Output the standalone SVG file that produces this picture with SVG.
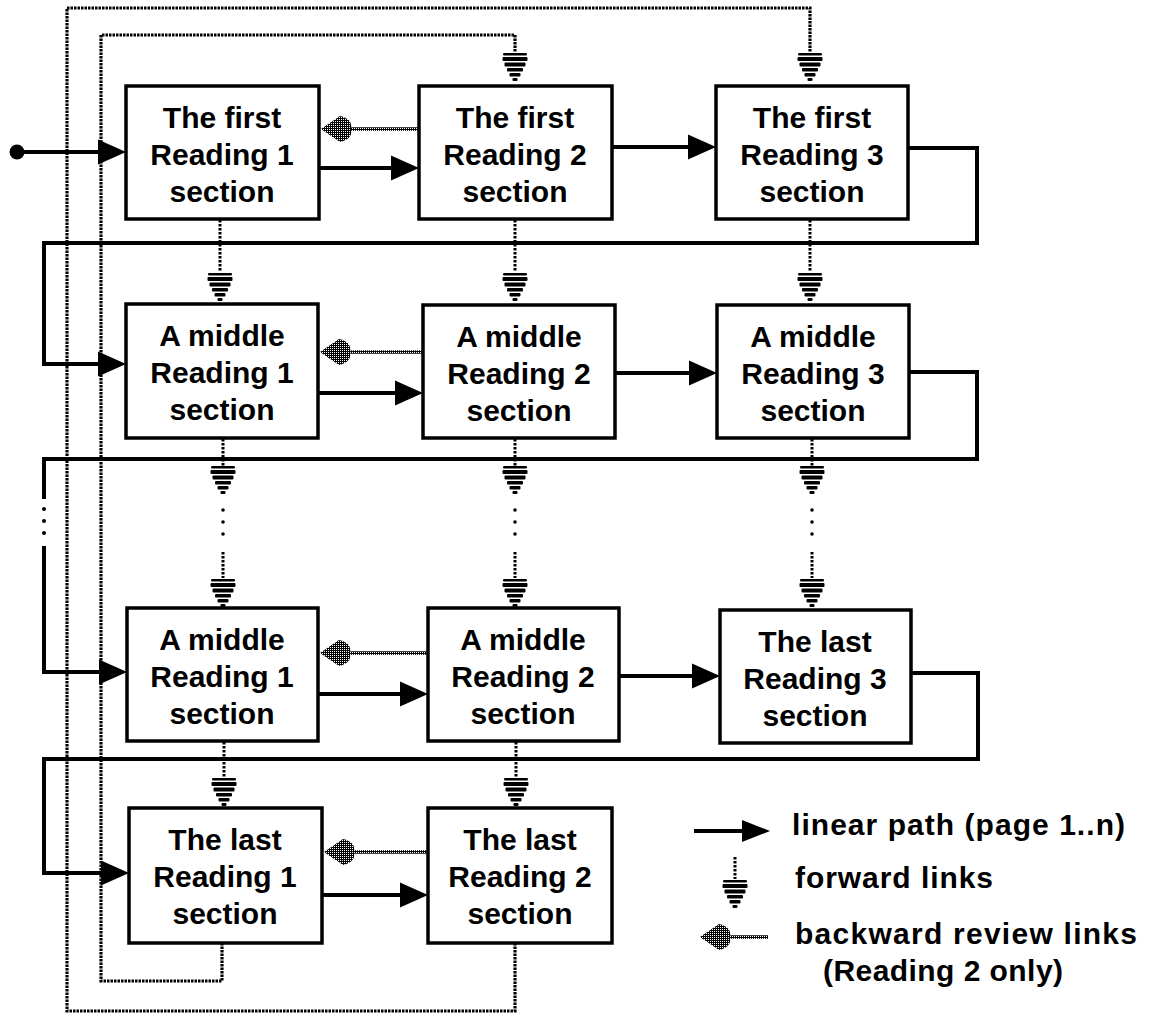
<svg xmlns="http://www.w3.org/2000/svg" xmlns:xlink="http://www.w3.org/1999/xlink" width="1150" height="1014" viewBox="0 0 1150 1014">
  <style>
    .box { fill: #fff; stroke: #000; stroke-width: 3.5; }
    .lbl { font-family: "Liberation Sans", Arial, sans-serif; font-weight: bold; font-size: 30px; text-anchor: middle; fill: #000; }
    .leg { font-family: "Liberation Sans", Arial, sans-serif; font-weight: bold; font-size: 30px; fill: #000; }
    .lin { fill: none; stroke: #000; stroke-width: 4; stroke-linejoin: miter; stroke-linecap: square; }
    .dot { fill: none; stroke: #000; stroke-width: 3.2; stroke-dasharray: 2.5 1; }
    .fdot { fill: none; stroke: #000; stroke-width: 3; stroke-dasharray: 2.4 1.6; }
    .back { fill: none; stroke: url(#stipD); stroke-width: 3.5; }
  </style>
  <defs>
    <!-- dense stipple for review links -->
    <pattern id="stipD" width="2" height="2" patternUnits="userSpaceOnUse">
      <rect width="2" height="2" fill="#000"/>
      <rect width="1" height="1" fill="#fff"/>
    </pattern>
    <!-- solid arrowhead, tip at origin, pointing right -->
    <polygon id="ah" points="-28,-12.5 0,0 -28,12.5" fill="#000"/>
    <!-- review arrowhead, tip at origin, pointing left -->
    <path id="bh" d="M0,0 L19,-13 Q32,-10 30,0 Q32,10 19,13 Z" fill="url(#stipD)"/>
    <!-- striped forward-link head, top centre at origin -->
    <g id="fw" fill="#000">
      <rect x="-12" y="0" width="24" height="2.5" rx="1.2"/>
      <rect x="-12.5" y="4" width="25" height="4" rx="1"/>
      <rect x="-10.5" y="9.5" width="21" height="4" rx="1"/>
      <rect x="-8" y="15" width="16" height="3.5" rx="1"/>
      <rect x="-5.5" y="20" width="11" height="3.5" rx="1"/>
      <rect x="-2.5" y="25" width="5" height="3" rx="1"/>
    </g>
  </defs>

  <rect width="1150" height="1014" fill="#fff"/>

  <!-- connectors -->
  <g id="connectors">
    <!-- review loops back to the top of Reading 2 and Reading 3 -->
    <path class="dot" d="M515,943 V1011 H67 V8 H810 V52"/>
    <path class="dot" d="M222,943 V981 H101 V35 H515 V52"/>
    <use xlink:href="#fw" x="810" y="53"/>
    <use xlink:href="#fw" x="515" y="53"/>

    <!-- forward links, row 1 to row 2 -->
    <path class="fdot" d="M220,220 V272 M515,220 V272 M810,220 V272"/>
    <use xlink:href="#fw" x="220" y="273"/>
    <use xlink:href="#fw" x="515" y="273"/>
    <use xlink:href="#fw" x="810" y="273"/>

    <!-- forward links, row 2 to row 3 (with gap) -->
    <path class="fdot" d="M223,439 V466 M515,439 V466 M812,439 V466"/>
    <use xlink:href="#fw" x="223" y="466"/>
    <use xlink:href="#fw" x="515" y="466"/>
    <use xlink:href="#fw" x="812" y="466"/>
    <g fill="#000">
      <circle cx="223" cy="510" r="1.8"/><circle cx="223" cy="522" r="1.8"/><circle cx="223" cy="534" r="1.8"/>
      <circle cx="515" cy="510" r="1.8"/><circle cx="515" cy="522" r="1.8"/><circle cx="515" cy="534" r="1.8"/>
      <circle cx="812" cy="510" r="1.8"/><circle cx="812" cy="522" r="1.8"/><circle cx="812" cy="534" r="1.8"/>
    </g>
    <path class="fdot" d="M223,552 V578 M515,552 V578 M812,552 V578"/>
    <use xlink:href="#fw" x="223" y="579"/>
    <use xlink:href="#fw" x="515" y="579"/>
    <use xlink:href="#fw" x="812" y="579"/>

    <!-- forward links, row 3 to row 4 -->
    <path class="fdot" d="M224,742 V777 M516,742 V777"/>
    <use xlink:href="#fw" x="224" y="778"/>
    <use xlink:href="#fw" x="516" y="778"/>

    <!-- linear path -->
    <circle cx="17" cy="152" r="7.5" fill="#000"/>
    <path class="lin" d="M17,152 H100"/>
    <use xlink:href="#ah" x="126" y="152"/>

    <path class="lin" d="M319,168 H393"/>
    <use xlink:href="#ah" x="419" y="168"/>
    <path class="lin" d="M612,147 H690"/>
    <use xlink:href="#ah" x="716" y="147"/>
    <path class="lin" d="M908,148 H977 V243 H44 V364 H100"/>
    <use xlink:href="#ah" x="126" y="364"/>

    <path class="lin" d="M318,393 H397"/>
    <use xlink:href="#ah" x="423" y="393"/>
    <path class="lin" d="M615,373 H691"/>
    <use xlink:href="#ah" x="717" y="373"/>
    <path class="lin" d="M909,372 H977 V459 H44 V497"/>
    <g fill="#000">
      <circle cx="44" cy="509" r="2"/><circle cx="44" cy="521" r="2"/><circle cx="44" cy="533" r="2"/>
    </g>
    <path class="lin" d="M44,548 V672 H101"/>
    <use xlink:href="#ah" x="127" y="672"/>

    <path class="lin" d="M318,694 H402"/>
    <use xlink:href="#ah" x="428" y="694"/>
    <path class="lin" d="M619,676 H694"/>
    <use xlink:href="#ah" x="720" y="676"/>
    <path class="lin" d="M911,673 H978 V759 H44 V873 H103"/>
    <use xlink:href="#ah" x="129" y="873"/>

    <path class="lin" d="M322,895 H402"/>
    <use xlink:href="#ah" x="428" y="895"/>

    <!-- backward review links (Reading 2 only) -->
    <path class="back" d="M419,129 H348"/>
    <use xlink:href="#bh" x="321" y="129"/>
    <path class="back" d="M423,352 H347"/>
    <use xlink:href="#bh" x="320" y="352"/>
    <path class="back" d="M428,653 H347"/>
    <use xlink:href="#bh" x="320" y="653"/>
    <path class="back" d="M428,852 H351"/>
    <use xlink:href="#bh" x="324" y="852"/>
  </g>

  <!-- row 1 -->
  <g id="first-r1">
    <rect class="box" x="126" y="86" width="193" height="133"/>
    <text class="lbl"><tspan x="222" y="128">The first</tspan><tspan x="222" y="165">Reading 1</tspan><tspan x="222" y="202">section</tspan></text>
  </g>
  <g id="first-r2">
    <rect class="box" x="419" y="86" width="193" height="133"/>
    <text class="lbl"><tspan x="515" y="128">The first</tspan><tspan x="515" y="165">Reading 2</tspan><tspan x="515" y="202">section</tspan></text>
  </g>
  <g id="first-r3">
    <rect class="box" x="716" y="86" width="192" height="133"/>
    <text class="lbl"><tspan x="812" y="128">The first</tspan><tspan x="812" y="165">Reading 3</tspan><tspan x="812" y="202">section</tspan></text>
  </g>

  <!-- row 2 -->
  <g id="middle-a-r1">
    <rect class="box" x="126" y="304" width="192" height="134"/>
    <text class="lbl"><tspan x="222" y="346">A middle</tspan><tspan x="222" y="383">Reading 1</tspan><tspan x="222" y="420">section</tspan></text>
  </g>
  <g id="middle-a-r2">
    <rect class="box" x="423" y="305" width="192" height="133"/>
    <text class="lbl"><tspan x="519" y="347">A middle</tspan><tspan x="519" y="384">Reading 2</tspan><tspan x="519" y="421">section</tspan></text>
  </g>
  <g id="middle-a-r3">
    <rect class="box" x="717" y="305" width="192" height="133"/>
    <text class="lbl"><tspan x="813" y="347">A middle</tspan><tspan x="813" y="384">Reading 3</tspan><tspan x="813" y="421">section</tspan></text>
  </g>

  <!-- row 3 -->
  <g id="middle-b-r1">
    <rect class="box" x="127" y="608" width="191" height="133"/>
    <text class="lbl"><tspan x="222" y="650">A middle</tspan><tspan x="222" y="687">Reading 1</tspan><tspan x="222" y="724">section</tspan></text>
  </g>
  <g id="middle-b-r2">
    <rect class="box" x="428" y="608" width="191" height="133"/>
    <text class="lbl"><tspan x="523" y="650">A middle</tspan><tspan x="523" y="687">Reading 2</tspan><tspan x="523" y="724">section</tspan></text>
  </g>
  <g id="last-r3">
    <rect class="box" x="720" y="610" width="191" height="133"/>
    <text class="lbl"><tspan x="815" y="652">The last</tspan><tspan x="815" y="689">Reading 3</tspan><tspan x="815" y="726">section</tspan></text>
  </g>

  <!-- row 4 -->
  <g id="last-r1">
    <rect class="box" x="129" y="808" width="193" height="135"/>
    <text class="lbl"><tspan x="225" y="850">The last</tspan><tspan x="225" y="887">Reading 1</tspan><tspan x="225" y="924">section</tspan></text>
  </g>
  <g id="last-r2">
    <rect class="box" x="428" y="808" width="184" height="135"/>
    <text class="lbl"><tspan x="520" y="850">The last</tspan><tspan x="520" y="887">Reading 2</tspan><tspan x="520" y="924">section</tspan></text>
  </g>

  <!-- legend -->
  <g id="legend">
    <path class="lin" d="M696,831 H744"/>
    <polygon points="742,820 770,831 742,842" fill="#000"/>
    <text class="leg" x="792" y="835" textLength="333" lengthAdjust="spacing">linear path (page 1..n)</text>

    <path class="fdot" d="M735,857 V879"/>
    <use xlink:href="#fw" x="735" y="880"/>
    <text class="leg" x="795" y="888" textLength="198" lengthAdjust="spacing">forward links</text>

    <path class="back" d="M726,937 H768"/>
    <use xlink:href="#bh" x="700" y="937"/>
    <text class="leg" x="795" y="944" textLength="342" lengthAdjust="spacing">backward review links</text>
    <text class="leg" x="823" y="981" textLength="240" lengthAdjust="spacing">(Reading 2 only)</text>
  </g>
</svg>
